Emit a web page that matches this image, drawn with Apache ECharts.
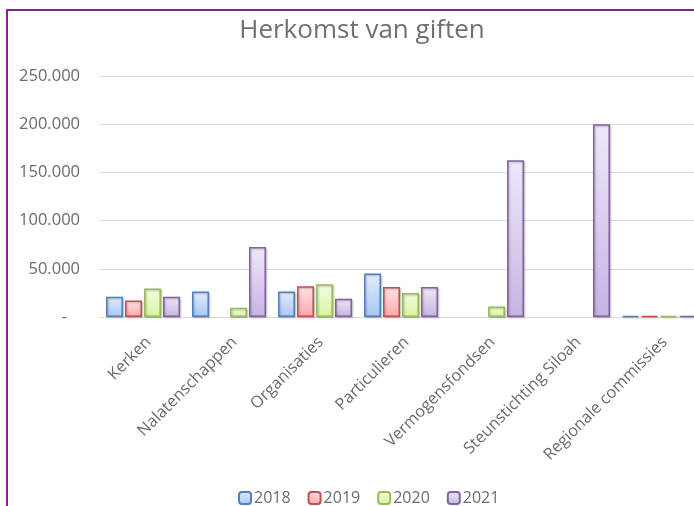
<!DOCTYPE html>
<html>
<head>
<meta charset="utf-8">
<script src="https://cdn.jsdelivr.net/npm/echarts@6/dist/echarts.min.js"></script>
<style>
  html, body { margin: 0; padding: 0; background: #fff; overflow: hidden; width: 694px; height: 506px; }
  #frame { position: absolute; left: 6px; top: 9px; width: 720px; height: 520px;
           border-left: 2px solid #8b1f9c; border-top: 2px solid #8b1f9c; }
  #main { position: absolute; left: 0; top: 0; width: 724px; height: 506px; }
</style>
</head>
<body>
<div id="frame"></div>
<div id="main"></div>
<script>
// categorieen en jaarbedragen (geschat uit de afbeelding), null = geen balk
var categories = ['Kerken', 'Nalatenschappen', 'Organisaties', 'Particulieren',
  'Vermogensfondsen', 'Steunstichting Siloah', 'Regionale commissies'];
var years = ['2018', '2019', '2020', '2021'];
var data2018 = [21000, 26500, 26500, 45000, null, null, 1200];
var data2019 = [17000, null, 32000, 31000, null, null, 1200];
var data2020 = [29500, 9500, 34000, 25000, 11000, null, 1200];
var data2021 = [21000, 72500, 19000, 31000, 162500, 200000, 1200];
var yTicks = [0, 50000, 100000, 150000, 200000, 250000];

var borders = ['#4f81bd', '#c0504d', '#9bbb59', '#8064a2'];
var fillsTop = ['#e3edfd', '#ffe3e3', '#f3fde2', '#efe9f8'];
var fillsBottom = ['#a8c6f4', '#ffa8a8', '#d6f5a0', '#c7b3e3'];
var seriesData = [data2018, data2019, data2020, data2021];

function fmt(v) {
  if (v === 0) return '-\u00a0\u00a0\u00a0';
  return String(v).replace(/\B(?=(\d{3})+(?!\d))/g, '.');
}

var chart = echarts.init(document.getElementById('main'));

var series = [];
for (var i = 0; i < years.length; i++) {
  series.push({
    name: years[i],
    type: 'bar',
    data: seriesData[i],
    barGap: '12%',
    barCategoryGap: '14%',
    itemStyle: {
      color: new echarts.graphic.LinearGradient(0, 0, 0, 1, [
        { offset: 0, color: fillsTop[i] },
        { offset: 1, color: fillsBottom[i] }
      ]),
      borderColor: borders[i],
      borderWidth: 1.5,
      shadowBlur: 2,
      shadowColor: 'rgba(0,0,0,0.25)',
      shadowOffsetX: 1,
      shadowOffsetY: 1
    },
    emphasis: { disabled: true }
  });
}

var option = {
  backgroundColor: 'transparent',
  animation: false,
  textStyle: { fontFamily: 'Open Sans' },
  title: {
    text: 'Herkomst van giften',
    left: 'center',
    top: 13,
    textStyle: { fontFamily: 'Open Sans', fontSize: 26, fontWeight: 'normal', color: '#707070' }
  },
  legend: {
    top: 485,
    left: 233,
    itemWidth: 12,
    itemHeight: 12,
    itemGap: 17,
    data: years,
    textStyle: { fontFamily: 'Open Sans', fontSize: 16, color: '#6b6b6b', padding: [0, 0, 0, -2] }
  },
  grid: {
    left: 100,
    right: 22,
    top: 76,
    bottom: 189,
    outerBoundsMode: 'none'
  },
  xAxis: {
    type: 'category',
    data: categories,
    axisLine: { lineStyle: { color: '#d9d9d9', width: 1 } },
    axisTick: { show: false },
    axisLabel: {
      rotate: 45,
      interval: 0,
      margin: 17,
      verticalAlign: 'top',
      fontSize: 16.3,
      color: '#6b6b6b'
    }
  },
  yAxis: {
    type: 'value',
    min: yTicks[0],
    max: yTicks[yTicks.length - 1],
    interval: 50000,
    axisLine: { show: false },
    axisTick: { show: false },
    splitLine: { lineStyle: { color: '#d9d9d9', width: 1 } },
    axisLabel: {
      margin: 20,
      fontSize: 16.5,
      color: '#6b6b6b',
      formatter: fmt
    }
  },
  series: series
};

chart.setOption(option);
</script>
</body>
</html>
